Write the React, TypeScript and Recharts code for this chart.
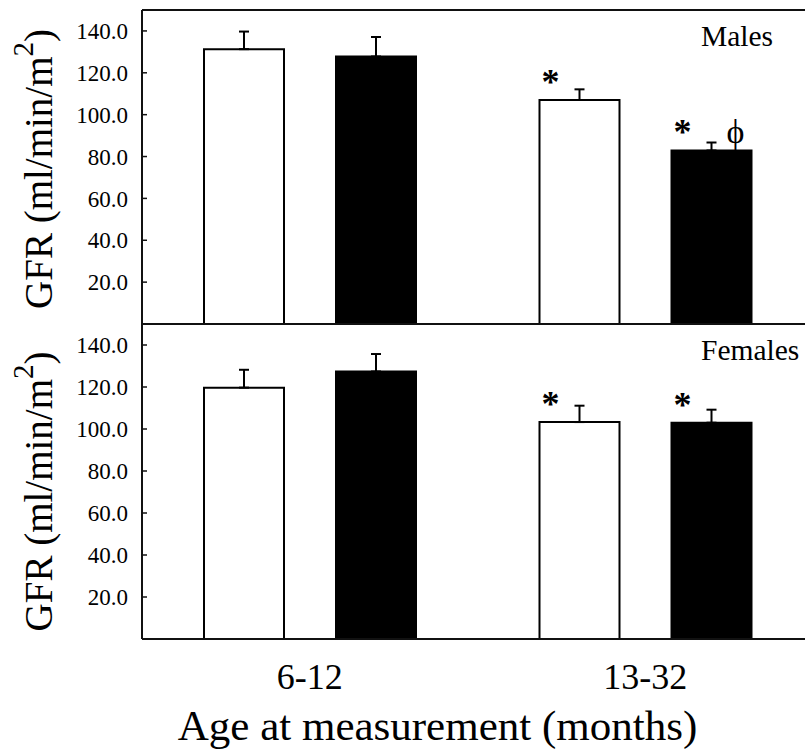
import React from "react";
import { BarChart, Bar, XAxis, YAxis, ErrorBar, LabelList, ReferenceLine, Label } from "recharts";

const categories = ["6-12", "13-32"];
const yTicks = [20, 40, 60, 80, 100, 120, 140];

const maleOpen = [131.3, 107.0];
const maleOpenErr = [8.4, 5.1];
const maleFilled = [127.8, 82.9];
const maleFilledErr = [9.3, 3.8];
const maleOpenMark = ["", "*"];
const maleFilledMark = ["", "*"];
const maleFilledMark2 = ["", "\u03D5"];

const femaleOpen = [119.7, 103.3];
const femaleOpenErr = [8.5, 7.8];
const femaleFilled = [127.4, 103.0];
const femaleFilledErr = [8.3, 6.2];
const femaleOpenMark = ["", "*"];
const femaleFilledMark = ["", "*"];
const femaleFilledMark2 = ["", ""];

const FONT = "'Liberation Serif', 'Times New Roman', serif";

function buildRows(open: number[], openErr: number[], filled: number[], filledErr: number[], m1: string[], m2: string[], m3: string[]) {
  return categories.map((c, i) => ({
    cat: c,
    open: open[i],
    openErr: [0, openErr[i]],
    filled: filled[i],
    filledErr: [0, filledErr[i]],
    openMark: m1[i],
    filledMark: m2[i],
    filledMark2: m3[i],
  }));
}

const maleRows = buildRows(maleOpen, maleOpenErr, maleFilled, maleFilledErr, maleOpenMark, maleFilledMark, maleFilledMark2);
const femaleRows = buildRows(femaleOpen, femaleOpenErr, femaleFilled, femaleFilledErr, femaleOpenMark, femaleFilledMark, femaleFilledMark2);

const StarLabel = (props: any) => {
  const { x, y, value } = props;
  if (!value) return null;
  return (
    <text x={x + 11} y={y - 6} textAnchor="middle" fontFamily={FONT} fontSize={36} fontWeight="bold" fill="#000">
      {value}
    </text>
  );
};

const PhiLabel = (props: any) => {
  const { x, y, width, value } = props;
  if (!value) return null;
  return (
    <text x={x + width - 16} y={y - 7} textAnchor="middle" fontFamily={FONT} fontSize={34} fill="#000">
      {value}
    </text>
  );
};

const YLabel = (props: any) => {
  const { viewBox, shift } = props;
  const cx = 52;
  const cy = viewBox.y + viewBox.height / 2 + shift;
  return (
    <text x={cx} y={cy} transform={`rotate(-90, ${cx}, ${cy})`} textAnchor="middle" fontFamily={FONT} fontSize={39} fill="#000">
      GFR (ml/min/m
      <tspan dy={-19} fontSize={29}>2</tspan>
      <tspan dy={19}>)</tspan>
    </text>
  );
};

const PanelTitle = (props: any) => {
  const { viewBox, text } = props;
  return (
    <text x={viewBox.x + 559} y={viewBox.y + 36} fontFamily={FONT} fontSize={29.5} fill="#000">
      {text}
    </text>
  );
};

const XTick = (props: any) => {
  const { x, y, payload } = props;
  return (
    <text x={x} y={y + 50} textAnchor="middle" fontFamily={FONT} fontSize={36} fill="#000">
      {payload.value}
    </text>
  );
};

const XLabel = (props: any) => {
  const { viewBox } = props;
  return (
    <text x={viewBox.x + viewBox.width / 2 - 40} y={viewBox.y + 101} textAnchor="middle" fontFamily={FONT} fontSize={43} fill="#000">
      Age at measurement (months)
    </text>
  );
};

function Panel(props: { rows: any[]; title: string; bottom: boolean; labelShift: number }) {
  const { rows, title, bottom, labelShift } = props;
  const height = bottom ? 431 : 330;
  const margin = bottom ? { top: 6, right: 17, left: 0, bottom: 0 } : { top: 10, right: 17, left: 0, bottom: 5 };
  return (
    <BarChart width={830} height={height} data={rows} margin={margin} barSize={80} barGap={52}>
      <XAxis
        dataKey="cat"
        height={bottom ? 110 : 1}
        axisLine={{ stroke: "#111", strokeWidth: 2 }}
        tickLine={false}
        tickSize={0}
        tickMargin={0}
        tick={bottom ? <XTick /> : false}
        interval={0}
      >
        {bottom ? <Label content={<XLabel />} /> : null}
      </XAxis>
      <YAxis
        width={142}
        domain={[0, 150]}
        ticks={yTicks}
        allowDataOverflow
        tickFormatter={(v: number) => v.toFixed(1)}
        axisLine={{ stroke: "#111", strokeWidth: 2 }}
        tickLine={{ stroke: "#111", strokeWidth: 1.5 }}
        tickSize={-5}
        tickMargin={19}
        tick={{ fontFamily: FONT, fontSize: 23, fill: "#000" }}
      >
        <Label content={<YLabel shift={labelShift} />} />
      </YAxis>
      <ReferenceLine y={150} stroke={bottom ? "none" : "#111"} strokeWidth={2} ifOverflow="visible">
        <Label content={<PanelTitle text={title} />} />
      </ReferenceLine>
      <Bar dataKey="open" fill="#fff" stroke="#000" strokeWidth={2} isAnimationActive={false}>
        <ErrorBar dataKey="openErr" width={5} stroke="#000" strokeWidth={2} direction="y" />
        <LabelList dataKey="openMark" content={<StarLabel />} />
      </Bar>
      <Bar dataKey="filled" fill="#000" stroke="#000" strokeWidth={2} isAnimationActive={false}>
        <ErrorBar dataKey="filledErr" width={5} stroke="#000" strokeWidth={2} direction="y" />
        <LabelList dataKey="filledMark" content={<StarLabel />} />
        <LabelList dataKey="filledMark2" content={<PhiLabel />} />
      </Bar>
    </BarChart>
  );
}

export default function App() {
  return (
    <div style={{ position: "fixed", left: 0, top: 0, width: 805, height: 754, overflow: "hidden", background: "#fff" }}>
      <div style={{ position: "absolute", left: 0, top: 0 }}>
        <Panel rows={maleRows} title="Males" bottom={false} labelShift={2} />
      </div>
      <div style={{ position: "absolute", left: 0, top: 318 }}>
        <Panel rows={femaleRows} title="Females" bottom={true} labelShift={10} />
      </div>
    </div>
  );
}
